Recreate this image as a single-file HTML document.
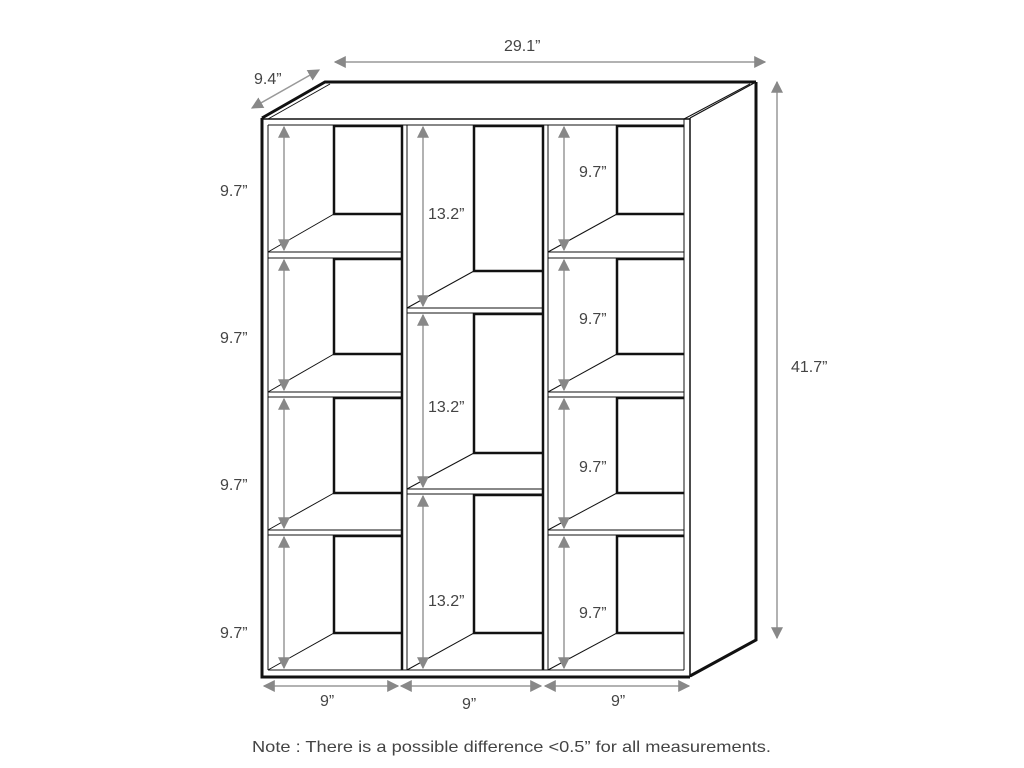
<!DOCTYPE html>
<html><head><meta charset="utf-8"><style>
html,body{margin:0;padding:0;background:#fff;}
svg{display:block;}
text{font-family:"Liberation Sans",sans-serif;fill:#444;}
</style></head><body>
<svg width="1024" height="768" viewBox="0 0 1024 768" xmlns="http://www.w3.org/2000/svg">
<defs>
<marker id="a" viewBox="0 0 10 10" refX="9" refY="5" markerWidth="12" markerHeight="12" markerUnits="userSpaceOnUse" orient="auto-start-reverse"><path d="M0,0L10,5L0,10z" fill="#888"/></marker>
</defs>
<g fill="none" stroke="#111">
<path d="M262,118 L325,82 L756,82" stroke-width="3"/>
<path d="M268,119 L330,84" stroke-width="1"/>
<path d="M690,118 L756,82" stroke-width="1.2"/>
<path d="M684,119 L750,84" stroke-width="1"/>
<path d="M756,82 L756,640 L690,676" stroke-width="3"/>
<path d="M262,118 L262,677 L690,677" stroke-width="3"/>
<line x1="262" y1="119" x2="690" y2="119" stroke-width="1.5"/>
<line x1="268" y1="125" x2="684" y2="125" stroke-width="1"/>
<line x1="268" y1="125" x2="268" y2="670" stroke-width="1"/>
<line x1="684" y1="119" x2="684" y2="670" stroke-width="1"/>
<line x1="690" y1="118" x2="690" y2="677" stroke-width="1.5"/>
<line x1="268" y1="670" x2="684" y2="670" stroke-width="1"/>
<line x1="402" y1="125" x2="402" y2="670" stroke-width="2.5"/>
<line x1="407" y1="125" x2="407" y2="670" stroke-width="1"/>
<line x1="543" y1="125" x2="543" y2="670" stroke-width="2.5"/>
<line x1="548" y1="125" x2="548" y2="670" stroke-width="1"/>
<g stroke-width="1">
<line x1="268" y1="252" x2="402" y2="252"/><line x1="268" y1="258" x2="402" y2="258"/>
<line x1="268" y1="392" x2="402" y2="392"/><line x1="268" y1="397" x2="402" y2="397"/>
<line x1="268" y1="530" x2="402" y2="530"/><line x1="268" y1="535" x2="402" y2="535"/>
<line x1="548" y1="252" x2="684" y2="252"/><line x1="548" y1="258" x2="684" y2="258"/>
<line x1="548" y1="392" x2="684" y2="392"/><line x1="548" y1="397" x2="684" y2="397"/>
<line x1="548" y1="530" x2="684" y2="530"/><line x1="548" y1="535" x2="684" y2="535"/>
<line x1="407" y1="308" x2="543" y2="308"/><line x1="407" y1="313" x2="543" y2="313"/>
<line x1="407" y1="489" x2="543" y2="489"/><line x1="407" y1="494" x2="543" y2="494"/>
<line x1="268" y1="252" x2="334" y2="214"/><line x1="268" y1="392" x2="334" y2="354"/>
<line x1="268" y1="530" x2="334" y2="493"/><line x1="268" y1="670" x2="334" y2="633"/>
<line x1="548" y1="252" x2="617" y2="214"/><line x1="548" y1="392" x2="617" y2="354"/>
<line x1="548" y1="530" x2="617" y2="493"/><line x1="548" y1="670" x2="617" y2="633"/>
<line x1="407" y1="308" x2="474" y2="271"/><line x1="407" y1="489" x2="474" y2="453"/>
<line x1="407" y1="670" x2="474" y2="633"/>
</g>
<g stroke-width="2.5">
<path d="M334,125 V214 H402"/><path d="M334,258 V354 H402"/><path d="M334,397 V493 H402"/><path d="M334,535 V633 H402"/>
<path d="M617,125 V214 H684"/><path d="M617,258 V354 H684"/><path d="M617,397 V493 H684"/><path d="M617,535 V633 H684"/>
<path d="M474,125 V271 H543"/><path d="M474,313 V453 H543"/><path d="M474,494 V633 H543"/>
<line x1="334" y1="126" x2="402" y2="126"/><line x1="334" y1="259" x2="402" y2="259"/><line x1="334" y1="398" x2="402" y2="398"/><line x1="334" y1="536" x2="402" y2="536"/>
<line x1="617" y1="126" x2="684" y2="126"/><line x1="617" y1="259" x2="684" y2="259"/><line x1="617" y1="398" x2="684" y2="398"/><line x1="617" y1="536" x2="684" y2="536"/>
<line x1="474" y1="126" x2="543" y2="126"/><line x1="474" y1="314" x2="543" y2="314"/><line x1="474" y1="495" x2="543" y2="495"/>
</g>
</g>
<g stroke="#999" stroke-width="1.5" fill="none" marker-start="url(#a)" marker-end="url(#a)">
<line x1="284" y1="127" x2="284" y2="250"/><line x1="284" y1="260" x2="284" y2="390"/>
<line x1="284" y1="399" x2="284" y2="528"/><line x1="284" y1="537" x2="284" y2="668"/>
<line x1="564" y1="127" x2="564" y2="250"/><line x1="564" y1="260" x2="564" y2="390"/>
<line x1="564" y1="399" x2="564" y2="528"/><line x1="564" y1="537" x2="564" y2="668"/>
<line x1="423" y1="127" x2="423" y2="306"/><line x1="423" y1="315" x2="423" y2="487"/>
<line x1="423" y1="496" x2="423" y2="668"/>
<line x1="264" y1="686" x2="398" y2="686"/><line x1="401" y1="686" x2="541" y2="686"/>
<line x1="545" y1="686" x2="689" y2="686"/>
<line x1="335" y1="62" x2="765" y2="62"/>
<line x1="777" y1="82" x2="777" y2="638"/>
<line x1="252" y1="108" x2="319" y2="70"/>
</g>
<g font-size="16">
<text x="220" y="196">9.7”</text><text x="220" y="343">9.7”</text>
<text x="220" y="490">9.7”</text><text x="220" y="638">9.7”</text>
<text x="428" y="219">13.2”</text><text x="428" y="412">13.2”</text><text x="428" y="606">13.2”</text>
<text x="579" y="177">9.7”</text><text x="579" y="324">9.7”</text>
<text x="579" y="472">9.7”</text><text x="579" y="618">9.7”</text>
<text x="791" y="372">41.7”</text>
<text x="504" y="51">29.1”</text>
<text x="254" y="84">9.4”</text>
<text x="320" y="706">9”</text><text x="462" y="709">9”</text><text x="611" y="706">9”</text>
</g>
<text x="252" y="752" font-size="16" textLength="519" lengthAdjust="spacingAndGlyphs">Note : There is a possible difference &lt;0.5” for all measurements.</text>
</svg>
</body></html>
